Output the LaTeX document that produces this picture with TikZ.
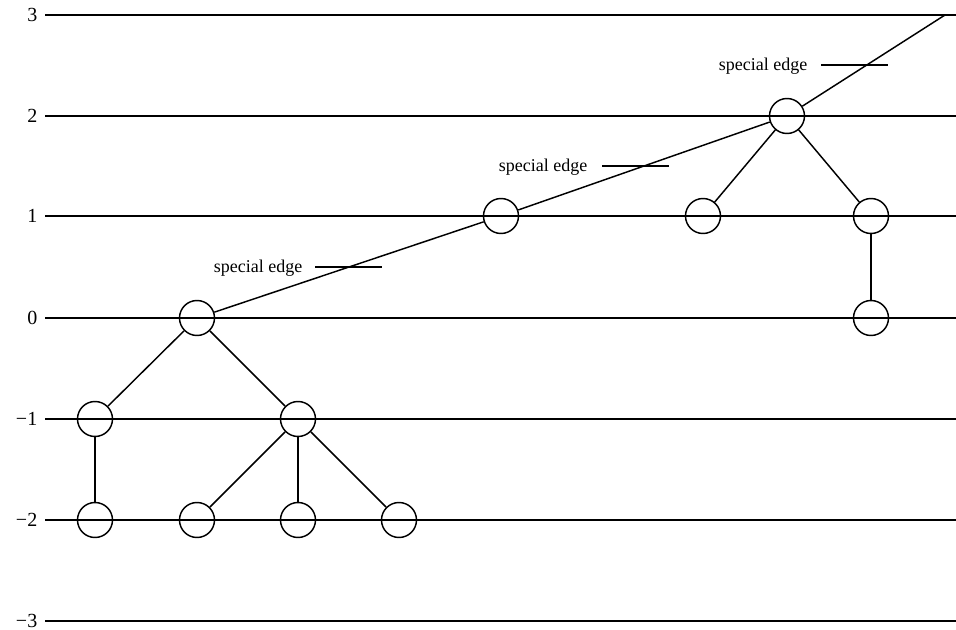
\documentclass[tikz,border=0pt]{standalone}
\usepackage{fontspec}
\setmainfont{Liberation Serif}
\begin{document}
\begin{tikzpicture}[x=0.75pt,y=-0.75pt,line width=1.1pt,
  vtx/.style={circle,draw,minimum size=35*0.75pt,inner sep=0pt},
  lvl/.style={anchor=east,inner sep=0pt,font=\fontsize{15}{17}\selectfont},
  sel/.style={anchor=east,inner sep=0pt,font=\fontsize{13.5}{16}\selectfont}]
\useasboundingbox (0,0) rectangle (956,630);
% levels
\foreach \v/\y in {3/15,2/116,1/216,0/318,−1/419,−2/520,−3/621}{
  \node[lvl] (L\y) at (38,\y) {\v};
  \coordinate (E\y) at (956,\y);
  \draw (45,\y) -- (E\y);
}
% vertices
\node[vtx] (r) at (197,318) {};
\node[vtx] (a) at (95,419) {};
\node[vtx] (b) at (298,419) {};
\node[vtx] (a1) at (95,520) {};
\node[vtx] (b1) at (197,520) {};
\node[vtx] (b2) at (298,520) {};
\node[vtx] (b3) at (399,520) {};
\node[vtx] (m) at (501,216) {};
\node[vtx] (t) at (787,116) {};
\node[vtx] (t1) at (703,216) {};
\node[vtx] (t2) at (871,216) {};
\node[vtx] (t3) at (871,318) {};
\coordinate (top) at (945,15);
% edges
\draw (r) -- (a);
\draw (r) -- (b);
\draw (a) -- (a1);
\draw (b) -- (b1);
\draw (b) -- (b2);
\draw (b) -- (b3);
\draw (r) -- (m);
\draw (m) -- (t);
\draw (t) -- (t1);
\draw (t) -- (t2);
\draw (t2) -- (t3);
\draw (t) -- (top);
% special edge labels
\node[sel] (s1) at (303,268) {special edge};
\coordinate (s1e) at (382,267);
\draw (315,267) -- (s1e);
\node[sel] (s2) at (588,167) {special edge};
\coordinate (s2e) at (669,166);
\draw (602,166) -- (s2e);
\node[sel] (s3) at (808,66) {special edge};
\coordinate (s3e) at (888,65);
\draw (821,65) -- (s3e);
\end{tikzpicture}
\end{document}
